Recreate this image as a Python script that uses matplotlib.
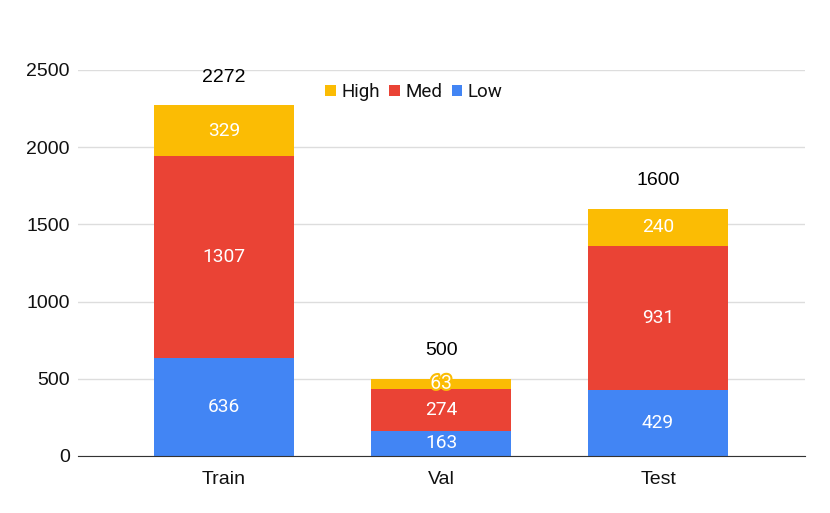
import matplotlib.pyplot as plt
import matplotlib.patheffects as pe
import numpy as np

categories = ["Train", "Val", "Test"]
low = [636, 163, 429]
med = [1307, 274, 931]
high = [329, 63, 240]
totals = [2272, 500, 1600]
series_names = ["High", "Med", "Low"]

c_low = "#4285F4"
c_med = "#EA4335"
c_high = "#FBBC04"

fig = plt.figure(figsize=(8.3, 5.13), dpi=100)
ax = fig.add_axes([78/830, 1-456/513, (805-78)/830, (456-70)/513])

x = np.arange(len(categories))
w = 0.645
low_a = np.array(low); med_a = np.array(med); high_a = np.array(high)
b1 = ax.bar(x, low_a, w, color=c_low, label="Low", zorder=3)
b2 = ax.bar(x, med_a, w, bottom=low_a, color=c_med, label="Med", zorder=3)
b3 = ax.bar(x, high_a, w, bottom=low_a+med_a, color=c_high, label="High", zorder=3)

lab_font = dict(family=["Roboto", "DejaVu Sans"], fontsize=13.8, color="white", ha="center", va="center", zorder=5)
for i in range(len(categories)):
    ax.text(x[i], low_a[i]/2, str(low[i]), **lab_font)
    ax.text(x[i], low_a[i] + med_a[i]/2, str(med[i]), **lab_font)
    t = ax.text(x[i], low_a[i] + med_a[i] + high_a[i]/2, str(high[i]), **lab_font)
    if high_a[i] < 150:
        t.set_path_effects([pe.withStroke(linewidth=3, foreground=c_high)])
    ax.annotate(str(totals[i]), (x[i], totals[i]), xytext=(0, 28), textcoords="offset pixels",
                ha="center", va="center", fontsize=14, family=["Liberation Sans", "DejaVu Sans"],
                color="#000000", annotation_clip=False)

ax.set_xlim(-0.673, 2.677)
ax.set_ylim(0, 2500)
ax.set_yticks([0, 500, 1000, 1500, 2000, 2500])
ax.set_xticks(x)
ax.set_xticklabels(categories)
for lbl in ax.get_xticklabels() + ax.get_yticklabels():
    lbl.set_family(["Liberation Sans", "DejaVu Sans"])
    lbl.set_fontsize(14)
    lbl.set_color("#111111")
ax.tick_params(axis="both", length=0)
ax.tick_params(axis="x", pad=11)
ax.tick_params(axis="y", pad=6)
ax.grid(axis="y", color="#dddddd", linewidth=1, zorder=0)
for s in ["top", "right", "left"]:
    ax.spines[s].set_visible(False)
ax.spines["bottom"].set_color("#333333")
ax.spines["bottom"].set_zorder(4)

handles = [b3, b2, b1]
leg = ax.legend(handles, series_names, loc="center", bbox_to_anchor=(414/830, 1-92/513),
                bbox_transform=fig.transFigure, ncol=3, frameon=False,
                handlelength=0.55, handleheight=0.55, handletextpad=0.3, columnspacing=0.5,
                prop={"family": ["Roboto", "DejaVu Sans"], "size": 13.5})
for t in leg.get_texts():
    t.set_color("#111111")

fig.savefig("out.png", dpi=100, facecolor="white")
